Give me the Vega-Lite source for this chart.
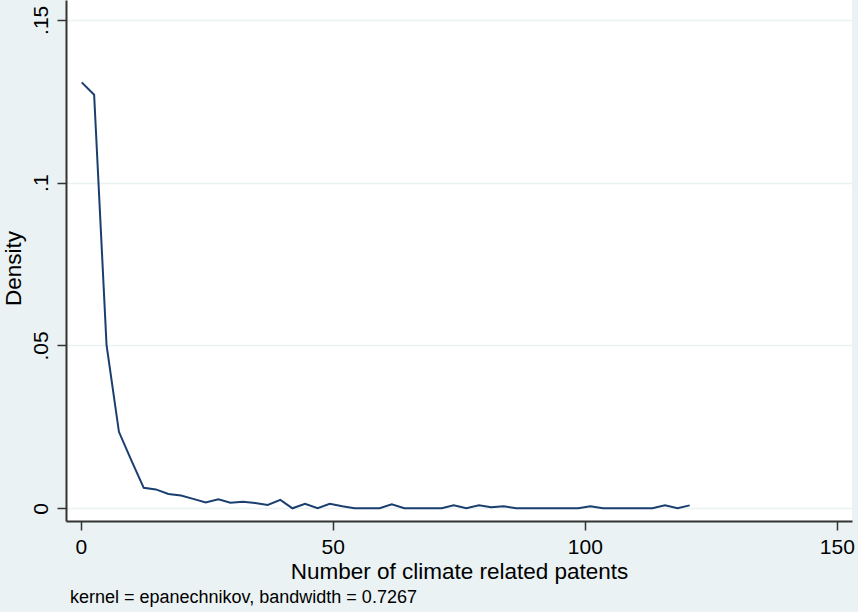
{
  "$schema": "https://vega.github.io/schema/vega-lite/v6.json",
  "width": 786,
  "height": 521,
  "autosize": {"type": "none"},
  "padding": {"left": 66, "top": 0, "right": 6, "bottom": 91},
  "background": "#eaf2f3",
  "title": {
    "text": "kernel = epanechnikov, bandwidth = 0.7267",
    "orient": "bottom",
    "anchor": "start",
    "frame": "group",
    "dx": 4,
    "offset": 6,
    "font": "Liberation Sans",
    "fontSize": 18,
    "fontWeight": "normal",
    "color": "#000000"
  },
  "config": {
    "view": {"fill": "#ffffff", "stroke": null},
    "font": "Liberation Sans"
  },
  "data": {
    "values": [
      {"x": 0.2, "density": 0.1308},
      {"x": 2.66, "density": 0.127},
      {"x": 5.12, "density": 0.0502},
      {"x": 7.58, "density": 0.0235},
      {"x": 10.0, "density": 0.0149},
      {"x": 12.5, "density": 0.0063},
      {"x": 14.9, "density": 0.0058},
      {"x": 17.4, "density": 0.0044},
      {"x": 19.9, "density": 0.0039},
      {"x": 22.3, "density": 0.0029},
      {"x": 24.8, "density": 0.0018},
      {"x": 27.3, "density": 0.0028},
      {"x": 29.7, "density": 0.0017},
      {"x": 32.2, "density": 0.002},
      {"x": 34.6, "density": 0.0016},
      {"x": 37.1, "density": 0.001},
      {"x": 39.6, "density": 0.0026},
      {"x": 42.0, "density": 0.0},
      {"x": 44.5, "density": 0.0014},
      {"x": 47.0, "density": 0.0},
      {"x": 49.4, "density": 0.0014},
      {"x": 51.9, "density": 0.0006},
      {"x": 54.3, "density": 0.0},
      {"x": 56.8, "density": 0.0},
      {"x": 59.3, "density": 0.0},
      {"x": 61.7, "density": 0.0012},
      {"x": 64.2, "density": 0.0},
      {"x": 66.7, "density": 0.0},
      {"x": 69.1, "density": 0.0},
      {"x": 71.6, "density": 0.0},
      {"x": 74.0, "density": 0.0009},
      {"x": 76.5, "density": 0.0},
      {"x": 79.0, "density": 0.0009},
      {"x": 81.4, "density": 0.0003},
      {"x": 83.9, "density": 0.0006},
      {"x": 86.4, "density": 0.0},
      {"x": 88.8, "density": 0.0},
      {"x": 91.3, "density": 0.0},
      {"x": 93.7, "density": 0.0},
      {"x": 96.2, "density": 0.0},
      {"x": 98.7, "density": 0.0},
      {"x": 101.1, "density": 0.0006},
      {"x": 103.6, "density": 0.0},
      {"x": 106.0, "density": 0.0},
      {"x": 108.5, "density": 0.0},
      {"x": 111.0, "density": 0.0},
      {"x": 113.4, "density": 0.0},
      {"x": 115.9, "density": 0.0009},
      {"x": 118.4, "density": 0.0},
      {"x": 120.8, "density": 0.0009}
    ]
  },
  "mark": {"type": "line", "color": "#1a3f6e", "strokeWidth": 2, "clip": true},
  "encoding": {
    "x": {
      "field": "x",
      "type": "quantitative",
      "scale": {"domain": [-2.92, 153.0], "nice": false, "zero": false},
      "axis": {
        "title": "Number of climate related patents",
        "values": [0, 50, 100, 150],
        "format": "d",
        "grid": false,
        "domainColor": "#333333",
        "domainWidth": 2,
        "tickColor": "#333333",
        "tickWidth": 1.5,
        "tickSize": 9,
        "labelPadding": 6,
        "labelFont": "Liberation Sans",
        "labelFontSize": 21,
        "labelColor": "#000000",
        "labelFlush": false,
        "titleFont": "Liberation Sans",
        "titleFontSize": 22.5,
        "titleFontWeight": "normal",
        "titleColor": "#000000",
        "titleBaseline": "alphabetic",
        "titleY": 57
      }
    },
    "y": {
      "field": "density",
      "type": "quantitative",
      "scale": {"domain": [-0.0039, 0.1561], "nice": false, "zero": false},
      "axis": {
        "title": "Density",
        "values": [0, 0.05, 0.1, 0.15],
        "labelExpr": "datum.value == 0 ? '0' : replace(format(datum.value, '.2~f'), '0.', '.')",
        "grid": true,
        "gridColor": "#eaf2f3",
        "gridWidth": 1.5,
        "domainColor": "#333333",
        "domainWidth": 2,
        "tickColor": "#333333",
        "tickWidth": 1.5,
        "tickSize": 9,
        "labelAngle": 270,
        "labelAlign": "center",
        "labelBaseline": "alphabetic",
        "labelPadding": 10,
        "labelFont": "Liberation Sans",
        "labelFontSize": 21,
        "labelColor": "#000000",
        "labelFlush": false,
        "titleFont": "Liberation Sans",
        "titleFontSize": 22.5,
        "titleFontWeight": "normal",
        "titleColor": "#000000",
        "titleAngle": 270,
        "titleAlign": "center",
        "titleBaseline": "alphabetic",
        "titleX": -46,
        "titleY": 268
      }
    }
  }
}
